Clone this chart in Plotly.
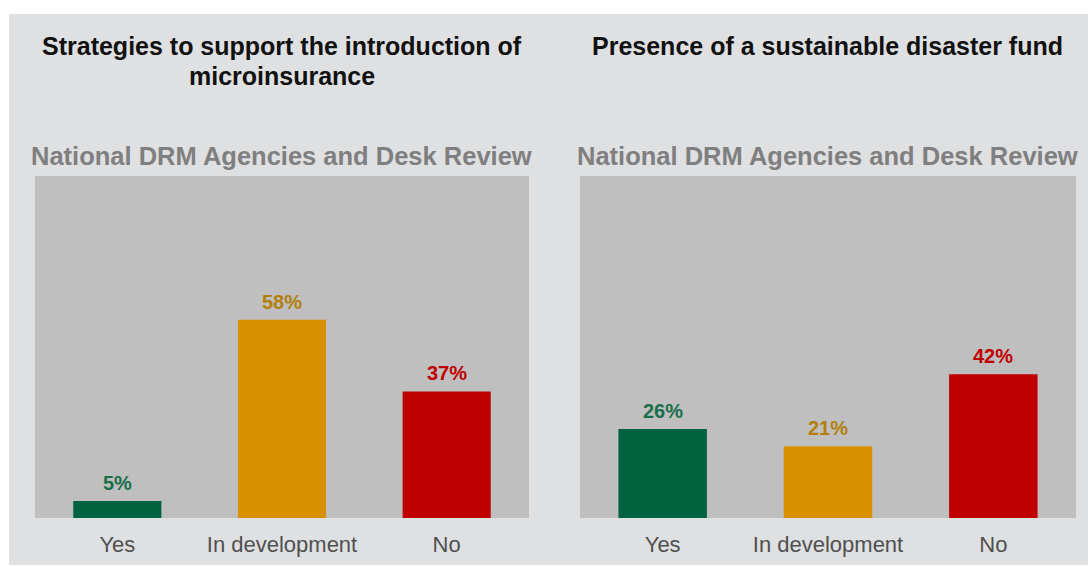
import plotly.graph_objects as go

# Survey results shown as share of respondents (%)
categories = ["Yes", "In development", "No"]
microinsurance_pct = [5, 58, 37]
disaster_fund_pct = [26, 21, 42]

bar_colors = ["#00623f", "#d79000", "#c00000"]
label_colors = ["#1a6e4a", "#b27f0c", "#c00000"]

panel_titles = [
    ["Strategies to support the introduction of", "microinsurance"],
    ["Presence of a sustainable disaster fund"],
]
source_label = "National DRM Agencies and Desk Review"

W, H = 1088, 567
FONT = "Liberation Sans, Arial, sans-serif"

fig = go.Figure()

panels = [
    ("x", "y", microinsurance_pct, (35, 529)),
    ("x2", "y2", disaster_fund_pct, (580, 1076)),
]

for (xa, ya, values, _) in panels:
    fig.add_trace(go.Bar(
        x=categories, y=values, xaxis=xa, yaxis=ya,
        marker=dict(color=bar_colors, line=dict(width=0)),
        width=0.535, showlegend=False, hoverinfo="x+y",
    ))
    for cat, v, c in zip(categories, values, label_colors):
        fig.add_annotation(
            x=cat, y=v, xref=xa, yref=ya, text=f"<b>{v}%</b>",
            showarrow=False, yanchor="bottom", yshift=5,
            font=dict(family=FONT, size=20, color=c),
        )

y_dom = [1 - 518 / H, 1 - 176 / H]

axis_common = dict(
    type="category", showgrid=False, zeroline=False, showline=False,
    ticks="outside", ticklen=7, tickcolor="rgba(0,0,0,0)",
    tickfont=dict(family=FONT, size=22, color="#505050"),
    fixedrange=True,
)
yaxis_common = dict(range=[0, 100], showticklabels=False, showgrid=False,
                    zeroline=False, showline=False, fixedrange=True)

fig.update_layout(
    width=W, height=H,
    margin=dict(l=0, r=0, t=0, b=0),
    paper_bgcolor="#dfe0e2",
    plot_bgcolor="#bfbfbf",
    xaxis=dict(domain=[35 / W, 529 / W], anchor="y", **axis_common),
    xaxis2=dict(domain=[580 / W, 1076 / W], anchor="y2", **axis_common),
    yaxis=dict(domain=y_dom, anchor="x", **yaxis_common),
    yaxis2=dict(domain=y_dom, anchor="x2", **yaxis_common),
    bargap=0.465,
)

# white page margins around the grey slide panel
for x0, x1, y0, y1 in [(0, 1, 1 - 14 / H, 1), (0, 9 / W, 0, 1), (0, 1, 0, 2 / H)]:
    fig.add_shape(type="rect", xref="paper", yref="paper",
                  x0=x0, x1=x1, y0=y0, y1=y1,
                  fillcolor="white", line=dict(width=0), layer="above")

title_centers = [282, 827]
line_y = [46, 76]
for cx, lines, (_, _, _, (x0, x1)) in zip(title_centers, panel_titles, panels):
    for ly, line in zip(line_y, lines):
        fig.add_annotation(
            x=cx / W, y=1 - ly / H, xref="paper", yref="paper",
            text=f"<b>{line}</b>", showarrow=False,
            xanchor="center", yanchor="middle",
            font=dict(family=FONT, size=25, color="#111111"),
        )
    fig.add_annotation(
        x=((x0 + x1) / 2 - 1) / W, y=1 - 156 / H, xref="paper", yref="paper",
        text=f"<b>{source_label}</b>", showarrow=False,
        xanchor="center", yanchor="middle",
        font=dict(family=FONT, size=25.5, color="#7f7f7f"),
    )

fig.write_html("out.html")
